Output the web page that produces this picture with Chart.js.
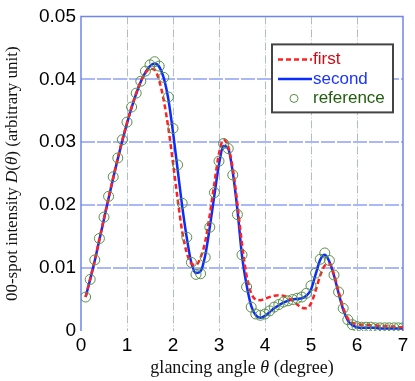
<!DOCTYPE html>
<html>
<head>
<meta charset="utf-8">
<script src="https://cdn.jsdelivr.net/npm/chart.js@4"></script>
<style>
  body { margin: 0; background: #fff; }
  #wrap { width: 415px; height: 381px; }
</style>
</head>
<body>
<div id="wrap"><canvas id="rheedChart"></canvas></div>
<script>
// glancing angles (degree)
const angles = [
  0.1, 0.2, 0.3, 0.4, 0.5, 0.6, 0.7, 0.8, 0.9, 1.0,
  1.1, 1.2, 1.3, 1.4, 1.5, 1.6, 1.7, 1.8, 1.9, 2.0,
  2.1, 2.2, 2.3, 2.4, 2.5, 2.6, 2.7, 2.8, 2.9, 3.0,
  3.1, 3.2, 3.3, 3.4, 3.5, 3.6, 3.7, 3.8, 3.9, 4.0,
  4.1, 4.2, 4.3, 4.4, 4.5, 4.6, 4.7, 4.8, 4.9, 5.0,
  5.1, 5.2, 5.3, 5.4, 5.5, 5.6, 5.7, 5.8, 5.9, 6.0,
  6.1, 6.2, 6.3, 6.4, 6.5, 6.6, 6.7, 6.8, 6.9, 7.0
];

const firstValues = [
  0.0054, 0.0083, 0.0113, 0.0146, 0.0179, 0.0212, 0.0244, 0.0275, 0.0304, 0.0331,
  0.0356, 0.0378, 0.0397, 0.0410, 0.0417, 0.0415, 0.0398, 0.0366, 0.0322, 0.0267,
  0.0210, 0.0158, 0.0124, 0.0107, 0.0105, 0.0117, 0.0142, 0.0185, 0.0235, 0.0282,
  0.0304, 0.0293, 0.0258, 0.0202, 0.0138, 0.0088, 0.0060, 0.0050, 0.0049, 0.0051,
  0.0054, 0.0056, 0.0057, 0.0056, 0.0053, 0.0048, 0.0042, 0.0037, 0.0036, 0.0044,
  0.0064, 0.0088, 0.0104, 0.0107, 0.0090, 0.0063, 0.0037, 0.0020, 0.0013, 0.0011,
  0.0010, 0.0010, 0.0009, 0.0009, 0.0008, 0.0008, 0.0007, 0.0007, 0.0006, 0.0006
];

const secondValues = [
  0.0054, 0.0082, 0.0112, 0.0145, 0.0178, 0.0211, 0.0243, 0.0274, 0.0303, 0.0330,
  0.0355, 0.0377, 0.0396, 0.0411, 0.0421, 0.0425, 0.0420, 0.0402, 0.0368, 0.0316,
  0.0257, 0.0198, 0.0148, 0.0108, 0.0092, 0.0095, 0.0120, 0.0165, 0.0216, 0.0265,
  0.0294, 0.0290, 0.0252, 0.0193, 0.0120, 0.0073, 0.0040, 0.0025, 0.0021, 0.0024,
  0.0030, 0.0036, 0.0041, 0.0045, 0.0048, 0.0050, 0.0051, 0.0052, 0.0056, 0.0066,
  0.0090, 0.0113, 0.0121, 0.0110, 0.0088, 0.0060, 0.0034, 0.0017, 0.0009, 0.0006,
  0.0005, 0.0005, 0.0005, 0.0005, 0.0004, 0.0004, 0.0004, 0.0004, 0.0004, 0.0004
];

const referenceValues = [
  0.0054, 0.0082, 0.0113, 0.0147, 0.0181, 0.0214, 0.0245, 0.0275, 0.0304, 0.0332,
  0.0356, 0.0378, 0.0397, 0.0413, 0.0423, 0.0428, 0.0421, 0.0403, 0.0372, 0.0322,
  0.0264, 0.0203, 0.0149, 0.0109, 0.0090, 0.0091, 0.0117, 0.0165, 0.0220, 0.0270,
  0.0298, 0.0290, 0.0248, 0.0185, 0.0121, 0.0070, 0.0038, 0.0027, 0.0025, 0.0027,
  0.0032, 0.0038, 0.0042, 0.0046, 0.0048, 0.0050, 0.0052, 0.0054, 0.0060, 0.0072,
  0.0092, 0.0114, 0.0124, 0.0112, 0.0089, 0.0062, 0.0036, 0.0018, 0.0010, 0.0007,
  0.0006, 0.0006, 0.0006, 0.0005, 0.0005, 0.0005, 0.0005, 0.0005, 0.0005, 0.0005
];

const xTickValues = [0, 1, 2, 3, 4, 5, 6, 7];
const yTickValues = [0, 0.01, 0.02, 0.03, 0.04, 0.05];
const yTickLabels = ['0', '0.01', '0.02', '0.03', '0.04', '0.05'];

const toPoints = vals => angles.map((a, i) => ({ x: a, y: vals[i] }));

const gridColor = '#aab8f7';
const frameColor = '#6f85ec';
const serif = '"Liberation Serif", "DejaVu Serif", serif';
const sans = '"Liberation Sans", Arial, sans-serif';

// frame on top/left/right of the plot area
const framePlugin = {
  id: 'frame',
  beforeDatasetsDraw(chart) {
    const { ctx, chartArea: a } = chart;
    ctx.save();
    ctx.strokeStyle = frameColor;
    ctx.lineWidth = 1.5;
    ctx.beginPath();
    ctx.moveTo(a.left, a.bottom);
    ctx.lineTo(a.left, a.top);
    ctx.lineTo(a.right, a.top);
    ctx.lineTo(a.right, a.bottom);
    ctx.stroke();
    ctx.restore();
  }
};

// axis titles with italic symbols
function drawParts(ctx, parts, size) {
  let total = 0;
  parts.forEach(p => {
    ctx.font = (p.italic ? 'italic ' : '') + size + 'px ' + serif;
    p.w = ctx.measureText(p.text).width;
    total += p.w;
  });
  let x = -total / 2;
  parts.forEach(p => {
    ctx.font = (p.italic ? 'italic ' : '') + size + 'px ' + serif;
    ctx.fillText(p.text, x, 0);
    x += p.w;
  });
}

const titlesPlugin = {
  id: 'axisTitles',
  afterDraw(chart) {
    const { ctx, chartArea: a } = chart;
    ctx.save();
    ctx.fillStyle = '#111';
    ctx.textBaseline = 'middle';
    ctx.textAlign = 'left';
    ctx.translate((a.left + a.right) / 2, a.bottom + 37);
    drawParts(ctx, [
      { text: 'glancing angle ' }, { text: 'θ', italic: true }, { text: ' (degree)' }
    ], 18);
    ctx.restore();

    ctx.save();
    ctx.fillStyle = '#111';
    ctx.textBaseline = 'middle';
    ctx.textAlign = 'left';
    ctx.translate(13, (a.top + a.bottom) / 2);
    ctx.rotate(-Math.PI / 2);
    drawParts(ctx, [
      { text: '00-spot intensity ' }, { text: 'D', italic: true }, { text: '(' },
      { text: 'θ', italic: true }, { text: ') (arbitrary unit)' }
    ], 17);
    ctx.restore();
  }
};

// boxed legend inside the plot
const legendPlugin = {
  id: 'boxLegend',
  afterDraw(chart) {
    const { ctx, chartArea: a } = chart;
    const sets = chart.data.datasets;
    const left = a.right - 131, top = a.top + 28, w = 121, h = 68;
    ctx.save();
    ctx.fillStyle = '#fff';
    ctx.fillRect(left, top, w, h);
    ctx.strokeStyle = '#444';
    ctx.lineWidth = 2;
    ctx.strokeRect(left, top, w, h);
    ctx.font = '17px ' + sans;
    ctx.textBaseline = 'middle';
    sets.forEach((ds, i) => {
      const y = top + 15 + i * 19.5;
      if (ds.showLine === false) {
        ctx.beginPath();
        ctx.strokeStyle = ds.pointBorderColor;
        ctx.lineWidth = 1;
        ctx.arc(left + 22, y, 4, 0, Math.PI * 2);
        ctx.stroke();
      } else {
        ctx.beginPath();
        ctx.strokeStyle = ds.borderColor;
        ctx.lineWidth = ds.borderWidth;
        ctx.setLineDash(ds.borderDash || []);
        ctx.moveTo(left + 6, y);
        ctx.lineTo(left + 40, y);
        ctx.stroke();
        ctx.setLineDash([]);
      }
      ctx.fillStyle = ds.legendTextColor;
      ctx.fillText(ds.label, left + 41, y);
    });
    ctx.restore();
  }
};

new Chart(document.getElementById('rheedChart'), {
  type: 'line',
  data: {
    datasets: [
      {
        label: 'first',
        data: toPoints(firstValues),
        borderColor: '#ff2020',
        borderWidth: 2.5,
        borderDash: [5, 3],
        pointRadius: 0,
        cubicInterpolationMode: 'monotone',
        legendTextColor: '#d10a14',
        order: 1
      },
      {
        label: 'second',
        data: toPoints(secondValues),
        borderColor: '#0a2cff',
        borderWidth: 2.5,
        pointRadius: 0,
        cubicInterpolationMode: 'monotone',
        legendTextColor: '#1a33ff',
        order: 2
      },
      {
        label: 'reference',
        data: toPoints(referenceValues),
        showLine: false,
        pointRadius: 5,
        pointBorderWidth: 1,
        pointBorderColor: '#5a8f48',
        pointBackgroundColor: 'rgba(0,0,0,0)',
        legendTextColor: '#22600f',
        order: 0
      }
    ]
  },
  options: {
    responsive: true,
    maintainAspectRatio: false,
    animation: false,
    layout: { padding: { top: 13, right: 12, left: 0, bottom: 0 } },
    plugins: { legend: { display: false }, tooltip: { enabled: false } },
    scales: {
      x: {
        type: 'linear',
        min: 0, max: 7,
        afterBuildTicks: s => { s.ticks = xTickValues.map(v => ({ value: v })); },
        afterFit: s => { s.height = 50; },
        ticks: { color: '#000', font: { family: sans, size: 19 }, padding: 3, maxRotation: 0 },
        grid: {
          drawTicks: false,
          lineWidth: 1,
          color: c => (c.tick && (c.tick.value === 0 || c.tick.value === 7)) ? 'rgba(0,0,0,0)' : gridColor
        },
        border: { display: false, dash: [8, 2, 1, 2] }
      },
      y: {
        min: 0, max: 0.05,
        afterBuildTicks: s => { s.ticks = yTickValues.map(v => ({ value: v })); },
        afterFit: s => { s.width = 81; },
        ticks: {
          color: '#000', font: { family: sans, size: 19 }, padding: 5,
          callback: (v) => yTickLabels[yTickValues.indexOf(v)]
        },
        grid: {
          drawTicks: false,
          lineWidth: 2,
          color: c => (c.tick && (c.tick.value === 0 || c.tick.value === 0.05)) ? 'rgba(0,0,0,0)' : gridColor
        },
        border: { display: false, dash: [14, 2] }
      }
    }
  },
  plugins: [framePlugin, titlesPlugin, legendPlugin]
});
</script>
</body>
</html>
